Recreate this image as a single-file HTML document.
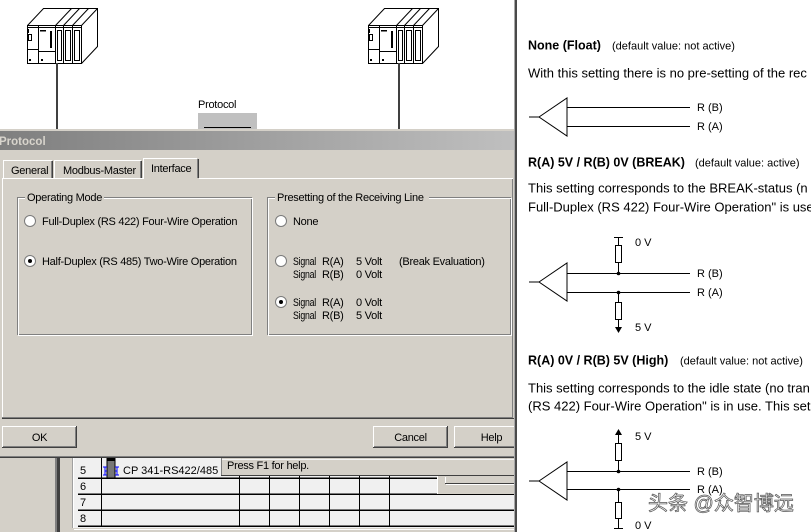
<!DOCTYPE html>
<html><head><meta charset="utf-8"><style>
html,body{margin:0;padding:0;width:811px;height:532px;overflow:hidden;background:#fff}
svg{display:block}
.d{font-family:"Liberation Sans",sans-serif;font-size:11px;letter-spacing:-0.27px;fill:#000}
.r{font-family:"Liberation Sans",sans-serif;font-size:13px;fill:#000}
.b{font-family:"Liberation Sans",sans-serif;font-size:12.5px;font-weight:bold;fill:#000}
.s{font-family:"Liberation Sans",sans-serif;font-size:11px;fill:#000}
.w{font-family:"Liberation Sans","Noto Sans CJK SC",sans-serif;font-size:20px;fill:#f4f4f4;stroke:#555;stroke-width:0.7px}
</style></head><body>
<svg width="811" height="532" viewBox="0 0 811 532" xmlns="http://www.w3.org/2000/svg">
<defs>
<linearGradient id="tg" x1="0" y1="0" x2="1" y2="0">
<stop offset="0" stop-color="#7f7f7f"/><stop offset="1" stop-color="#bfbfbf"/>
</linearGradient>
<g id="plc" fill="none" stroke="#000" stroke-width="1">
 <rect x="27.5" y="25.5" width="54" height="38" fill="#fff"/>
 <polyline points="27.5,25.5 43.5,8.5 97.5,8.5 97.5,46.5 81.5,63.5"/>
 <line x1="81.5" y1="25.5" x2="97.5" y2="8.5"/>
 <line x1="55.5" y1="25.5" x2="71.5" y2="8.5"/>
 <line x1="63.5" y1="25.5" x2="79.5" y2="8.5"/>
 <line x1="72.5" y1="25.5" x2="88.5" y2="8.5"/>
 <line x1="27.5" y1="27.5" x2="81.5" y2="27.5"/>
 <line x1="38.5" y1="25.5" x2="38.5" y2="63.5"/>
 <line x1="55.5" y1="25.5" x2="55.5" y2="63.5"/>
 <line x1="63.5" y1="25.5" x2="63.5" y2="63.5"/>
 <line x1="72.5" y1="25.5" x2="72.5" y2="63.5"/>
 <line x1="27.5" y1="49.5" x2="38.5" y2="49.5"/>
 <line x1="38.5" y1="51.5" x2="55.5" y2="51.5"/>
 <rect x="57.5" y="30.5" width="4" height="30"/>
 <rect x="65.5" y="30.5" width="5" height="30"/>
 <rect x="74.5" y="30.5" width="5" height="30"/>
 <rect x="28.5" y="34.5" width="3" height="6"/>
 <line x1="28.5" y1="29" x2="28.5" y2="33"/>
 <rect x="40" y="30" width="6" height="1.5" fill="#000" stroke="none"/>
 <rect x="50" y="31" width="2" height="17" fill="#000" stroke="none"/>
 <rect x="29" y="59" width="2" height="2" fill="#000" stroke="none"/>
 <rect x="41" y="59" width="2" height="2" fill="#000" stroke="none"/>
</g>
</defs>

<rect x="0" y="0" width="514" height="129" fill="#fff"/>
<use href="#plc"/>
<use href="#plc" transform="translate(341,0)"/>
<rect x="56" y="63" width="2" height="66" fill="#404040"/>
<rect x="398" y="63" width="2" height="66" fill="#404040"/>
<text class="d" x="198" y="108">Protocol</text>
<rect x="198" y="113" width="59" height="16" fill="#c0c0c0"/>
<rect x="204" y="127" width="47" height="1" fill="#000"/>
<rect x="0" y="129" width="514" height="2" fill="#d4d0c8"/>

<rect x="0" y="131" width="514" height="19" fill="url(#tg)"/>
<text x="-1" y="145" font-family="Liberation Sans, sans-serif" font-size="11.5" font-weight="bold" fill="#d8d4cc">Protocol</text>

<rect x="0" y="150" width="514" height="308" fill="#d4d0c8"/>

<g shape-rendering="crispEdges">
<rect x="3" y="160" width="1" height="18" fill="#fff"/>
<rect x="4" y="160" width="48" height="1" fill="#fff"/>
<rect x="51" y="161" width="1" height="17" fill="#808080"/>
<rect x="52" y="161" width="1" height="17" fill="#404040"/>
<rect x="54" y="160" width="1" height="18" fill="#fff"/>
<rect x="55" y="160" width="86" height="1" fill="#fff"/>
<rect x="140" y="161" width="1" height="17" fill="#808080"/>
<rect x="141" y="161" width="1" height="17" fill="#404040"/>
<rect x="2" y="178" width="511" height="1" fill="#fff"/>
<rect x="2" y="178" width="1" height="240" fill="#fff"/>
<rect x="2" y="417" width="511" height="1" fill="#808080"/>
<rect x="2" y="418" width="512" height="1" fill="#404040"/>
<rect x="512" y="179" width="1" height="239" fill="#808080"/>
<rect x="143" y="158" width="56" height="21" fill="#d4d0c8"/>
<rect x="143" y="158" width="1" height="21" fill="#fff"/>
<rect x="144" y="158" width="53" height="1" fill="#fff"/>
<rect x="197" y="159" width="1" height="19" fill="#808080"/>
<rect x="198" y="159" width="1" height="19" fill="#404040"/>
</g>
<text class="d" x="11" y="174">General</text>
<text class="d" x="63" y="174">Modbus-Master</text>
<text class="d" x="151" y="172">Interface</text>

<g fill="none" shape-rendering="crispEdges">
<rect x="17.5" y="197.5" width="234" height="137" stroke="#808080"/>
<rect x="18.5" y="198.5" width="234" height="137" stroke="#fff"/>
<rect x="267.5" y="197.5" width="243" height="137" stroke="#808080"/>
<rect x="268.5" y="198.5" width="243" height="137" stroke="#fff"/>
</g>
<rect x="25" y="193" width="79" height="8" fill="#d4d0c8"/>
<rect x="275" y="193" width="154" height="8" fill="#d4d0c8"/>
<text class="d" x="27" y="201">Operating Mode</text>
<text class="d" x="277" y="201">Presetting of the Receiving Line</text>

<g stroke="#7a7a7a" stroke-width="1" fill="#fff">
<circle cx="30" cy="221" r="5.5"/>
<circle cx="30" cy="261" r="5.5"/>
<circle cx="281" cy="221" r="5.5"/>
<circle cx="281" cy="261" r="5.5"/>
<circle cx="281" cy="302" r="5.5"/>
</g>
<circle cx="30" cy="261" r="2" fill="#000"/>
<circle cx="281" cy="302" r="2" fill="#000"/>

<text class="d" x="42" y="225">Full-Duplex (RS 422) Four-Wire Operation</text>
<text class="d" x="42" y="265">Half-Duplex (RS 485) Two-Wire Operation</text>
<text class="d" x="293" y="225">None</text>
<text class="d" x="293" y="265" textLength="23" lengthAdjust="spacingAndGlyphs">Signal</text><text class="d" x="322" y="265">R(A)</text><text class="d" x="356" y="265">5 Volt</text><text class="d" x="399" y="265">(Break Evaluation)</text>
<text class="d" x="293" y="278" textLength="23" lengthAdjust="spacingAndGlyphs">Signal</text><text class="d" x="322" y="278">R(B)</text><text class="d" x="356" y="278">0 Volt</text>
<text class="d" x="293" y="306" textLength="23" lengthAdjust="spacingAndGlyphs">Signal</text><text class="d" x="322" y="306">R(A)</text><text class="d" x="356" y="306">0 Volt</text>
<text class="d" x="293" y="319" textLength="23" lengthAdjust="spacingAndGlyphs">Signal</text><text class="d" x="322" y="319">R(B)</text><text class="d" x="356" y="319">5 Volt</text>

<g shape-rendering="crispEdges">
<rect x="2" y="426" width="75" height="22" fill="#404040"/>
<rect x="2" y="426" width="74" height="21" fill="#fff"/>
<rect x="3" y="427" width="73" height="20" fill="#808080"/>
<rect x="3" y="427" width="72" height="19" fill="#d4d0c8"/>
<rect x="373" y="426" width="75" height="22" fill="#404040"/>
<rect x="373" y="426" width="74" height="21" fill="#fff"/>
<rect x="374" y="427" width="73" height="20" fill="#808080"/>
<rect x="374" y="427" width="72" height="19" fill="#d4d0c8"/>
<rect x="454" y="426" width="60" height="22" fill="#404040"/>
<rect x="454" y="426" width="60" height="21" fill="#fff"/>
<rect x="455" y="427" width="59" height="20" fill="#808080"/>
<rect x="455" y="427" width="59" height="19" fill="#d4d0c8"/>
</g>
<text class="d" x="39.5" y="441" text-anchor="middle">OK</text>
<text class="d" x="410.5" y="441" text-anchor="middle">Cancel</text>
<text class="d" x="491.5" y="441" text-anchor="middle">Help</text>

<g shape-rendering="crispEdges">
<rect x="0" y="458" width="514" height="74" fill="#d4d0c8"/>
<rect x="55" y="458" width="2" height="74" fill="#808080"/>
<rect x="57" y="458" width="3" height="74" fill="#404040"/>
<rect x="72" y="458" width="1" height="70" fill="#a0a0a0"/>
<rect x="73" y="458" width="1" height="70" fill="#fff"/>
<rect x="74" y="458" width="440" height="70" fill="#f0f0f0"/>
<rect x="78" y="477.5" width="359" height="1.5" fill="#000"/>
<rect x="78" y="493.5" width="436" height="1.5" fill="#000"/>
<rect x="78" y="509.5" width="436" height="1.5" fill="#000"/>
<rect x="78" y="525.5" width="436" height="1.5" fill="#000"/>
<rect x="101" y="458" width="1" height="69" fill="#000"/>
<rect x="239" y="476" width="1" height="51" fill="#000"/>
<rect x="269" y="476" width="1" height="51" fill="#000"/>
<rect x="299" y="476" width="1" height="51" fill="#000"/>
<rect x="329" y="476" width="1" height="51" fill="#000"/>
<rect x="359" y="476" width="1" height="51" fill="#000"/>
<rect x="389" y="476" width="1" height="51" fill="#000"/>
<rect x="437" y="476" width="77" height="18" fill="#d4d0c8"/>
<rect x="437" y="476" width="1" height="18" fill="#fff"/>
<rect x="445" y="477" width="1" height="7" fill="#fff"/>
<rect x="445" y="483" width="69" height="1" fill="#404040"/>
<rect x="446" y="484" width="68" height="1" fill="#fff"/>
<rect x="221" y="458" width="293" height="18" fill="#d4d0c8"/>
<rect x="221" y="458" width="1" height="18" fill="#808080"/>
<rect x="222" y="459" width="292" height="1" fill="#f4f4f4"/>
<rect x="221" y="475" width="293" height="1" fill="#404040"/>
<rect x="60" y="528" width="454" height="4" fill="#d4d0c8"/>
<rect x="74" y="529" width="440" height="1" fill="#fff"/>
<rect x="107" y="458" width="8" height="20" fill="#777" stroke="#000" stroke-width="1"/>
<rect x="107" y="458" width="8" height="3" fill="#000"/>
<path d="M103 467h4M103 475h4M105 467v8M115 467h4M115 475h4M117 467v8M105 471h2M115 471h2" stroke="#0000ff" stroke-width="1.2" fill="none"/>
</g>
<rect x="0" y="456" width="514" height="1" fill="#808080"/>
<rect x="0" y="457" width="514" height="1" fill="#404040"/>
<text class="d" x="227" y="469">Press F1 for help.</text>
<text class="s" x="80" y="474">5</text>
<text class="s" x="80" y="490">6</text>
<text class="s" x="80" y="506">7</text>
<text class="s" x="80" y="522">8</text>
<text class="s" x="123" y="474">CP 341-RS422/485</text>

<rect x="514" y="0" width="1" height="532" fill="#a8a8a8"/>
<rect x="515" y="0" width="2" height="532" fill="#4a4a4a"/>

<rect x="517" y="0" width="294" height="532" fill="#fff"/>
<text class="b" x="528" y="49.5">None (Float)</text>
<text class="s" x="612" y="49.5">(default value: not active)</text>
<text class="r" x="528" y="77.5">With this setting there is no pre-setting of the rec</text>

<g stroke="#000" stroke-width="1" fill="none">
<line x1="529" y1="117" x2="539" y2="117"/>
<polygon points="539,117 567,98 567,136"/>
<line x1="567" y1="107.5" x2="690" y2="107.5"/>
<line x1="567" y1="126.5" x2="690" y2="126.5"/>
<line x1="529" y1="282" x2="539" y2="282"/>
<polygon points="539,282 567,263 567,301"/>
<line x1="567" y1="273.5" x2="690" y2="273.5"/>
<line x1="567" y1="292.5" x2="690" y2="292.5"/>
<line x1="614" y1="237.5" x2="623" y2="237.5"/>
<line x1="618.5" y1="237" x2="618.5" y2="245"/>
<rect x="615.5" y="245.5" width="6" height="17"/>
<line x1="618.5" y1="262" x2="618.5" y2="273"/>
<line x1="618.5" y1="292" x2="618.5" y2="302"/>
<rect x="615.5" y="302.5" width="6" height="17"/>
<line x1="618.5" y1="319" x2="618.5" y2="328"/>
<line x1="529" y1="481" x2="539" y2="481"/>
<polygon points="539,481 567,462 567,500"/>
<line x1="567" y1="471.5" x2="690" y2="471.5"/>
<line x1="567" y1="489.5" x2="690" y2="489.5"/>
<line x1="618.5" y1="434" x2="618.5" y2="443"/>
<rect x="615.5" y="443.5" width="6" height="17"/>
<line x1="618.5" y1="460" x2="618.5" y2="471"/>
<line x1="618.5" y1="489" x2="618.5" y2="502"/>
<rect x="615.5" y="502.5" width="6" height="16"/>
<line x1="618.5" y1="518" x2="618.5" y2="528"/>
<line x1="614" y1="528.5" x2="623" y2="528.5"/>
</g>
<g fill="#000">
<circle cx="618.5" cy="273.5" r="1.8"/>
<circle cx="618.5" cy="292.5" r="1.8"/>
<polygon points="615,327 622,327 618.5,333"/>
<circle cx="618.5" cy="471.5" r="1.8"/>
<circle cx="618.5" cy="489.5" r="1.8"/>
<polygon points="618.5,429 615,435 622,435"/>
</g>
<text class="s" x="697" y="111">R (B)</text>
<text class="s" x="697" y="130">R (A)</text>

<text class="b" x="528" y="166.5">R(A) 5V / R(B) 0V (BREAK)</text>
<text class="s" x="695" y="166.5">(default value: active)</text>
<text class="r" x="528" y="192.5">This setting corresponds to the BREAK-status (n</text>
<text class="r" x="528" y="211.5">Full-Duplex (RS 422) Four-Wire Operation" is use</text>
<text class="s" x="635" y="246">0 V</text>
<text class="s" x="635" y="331">5 V</text>
<text class="s" x="697" y="277">R (B)</text>
<text class="s" x="697" y="296">R (A)</text>

<text class="b" x="528" y="364.5">R(A) 0V / R(B) 5V (High)</text>
<text class="s" x="680" y="364.5">(default value: not active)</text>
<text class="r" x="528" y="392.5">This setting corresponds to the idle state (no tran</text>
<text class="r" x="528" y="410.5">(RS 422) Four-Wire Operation" is in use. This set</text>
<text class="s" x="635" y="440">5 V</text>
<text class="s" x="635" y="529">0 V</text>
<text class="s" x="697" y="475">R (B)</text>
<text class="s" x="697" y="493">R (A)</text>

<text class="w" x="648" y="510">头条 @众智博远</text>
</svg>
</body></html>
